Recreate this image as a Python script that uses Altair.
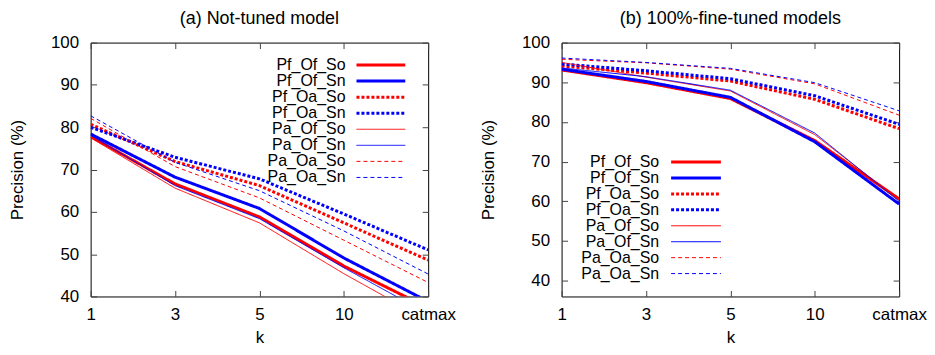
import altair as alt
import pandas as pd

FONT = "Liberation Sans"

k_labels = ["1", "3", "5", "10", "catmax"]
series = ["Pf_Of_So", "Pf_Of_Sn", "Pf_Oa_So", "Pf_Oa_Sn",
          "Pa_Of_So", "Pa_Of_Sn", "Pa_Oa_So", "Pa_Oa_Sn"]

# (a) Not-tuned model
a_Pf_Of_So = [77.8, 66.6, 58.8, 47.2, 37.3]
a_Pf_Of_Sn = [78.4, 68.2, 60.8, 49.1, 38.8]
a_Pf_Oa_So = [80.7, 71.9, 66.2, 57.4, 48.6]
a_Pf_Oa_Sn = [80.0, 72.9, 67.8, 59.5, 51.0]
a_Pa_Of_So = [77.5, 65.6, 57.4, 45.4, 34.3]
a_Pa_Of_Sn = [78.1, 66.2, 58.4, 46.8, 35.9]
a_Pa_Oa_So = [82.1, 70.7, 63.3, 53.3, 43.3]
a_Pa_Oa_Sn = [82.7, 71.7, 65.0, 55.5, 45.3]

# (b) 100%-fine-tuned models
b_Pf_Of_So = [93.1, 89.9, 85.9, 75.3, 60.6]
b_Pf_Of_Sn = [93.3, 90.2, 86.2, 75.0, 59.3]
b_Pf_Oa_So = [94.1, 92.3, 90.3, 85.7, 78.3]
b_Pf_Oa_Sn = [94.6, 92.9, 90.9, 86.6, 79.4]
b_Pa_Of_So = [95.0, 91.3, 87.8, 76.8, 60.3]
b_Pa_Of_Sn = [93.6, 91.4, 88.0, 77.2, 60.0]
b_Pa_Oa_So = [95.8, 94.9, 93.3, 89.6, 81.7]
b_Pa_Oa_Sn = [96.1, 95.0, 93.5, 89.9, 82.8]

a_vals = [a_Pf_Of_So, a_Pf_Of_Sn, a_Pf_Oa_So, a_Pf_Oa_Sn,
          a_Pa_Of_So, a_Pa_Of_Sn, a_Pa_Oa_So, a_Pa_Oa_Sn]
b_vals = [b_Pf_Of_So, b_Pf_Of_Sn, b_Pf_Oa_So, b_Pf_Oa_Sn,
          b_Pa_Of_So, b_Pa_Of_Sn, b_Pa_Oa_So, b_Pa_Oa_Sn]

# styles
RED, BLUE = "#ff0000", "#0000ff"
colors = [RED if s.endswith("So") else BLUE for s in series]
dashes = []
widths = []
for s in series:
    if s.startswith("Pf_Of"):
        dashes.append([1, 0]); widths.append(3)
    elif s.startswith("Pf_Oa"):
        dashes.append([3, 2]); widths.append(3)
    elif s.startswith("Pa_Of"):
        dashes.append([1, 0]); widths.append(1)
    else:
        dashes.append([4, 3]); widths.append(1)

color_enc = alt.Color("series:N", scale=alt.Scale(domain=series, range=colors), legend=None)
dash_enc = alt.StrokeDash("series:N", scale=alt.Scale(type="ordinal", domain=series, range=dashes), legend=None)
width_enc = alt.StrokeWidth("series:O", scale=alt.Scale(type="ordinal", domain=series, range=widths), legend=None)

W, H = 339, 255
TICK = 6


def make_panel(vals, title, ydomain, yticks, leg_text_x, leg_x1, leg_x2, leg_top, leg_bot):
    rows = []
    for i, s in enumerate(series):
        for j, k in enumerate(k_labels):
            rows.append({"series": s, "k": k, "value": vals[i][j], "order": j})
    df = pd.DataFrame(rows)

    xscale = alt.Scale(type="point", domain=k_labels, padding=0)
    yscale = alt.Scale(domain=ydomain, nice=False, zero=False)

    lines = alt.Chart(df).mark_line(clip=True, strokeCap="butt").encode(
        x=alt.X("k:N", scale=xscale, sort=k_labels,
                axis=alt.Axis(orient="bottom", title="k", domain=False, grid=False,
                              tickSize=TICK, offset=-TICK, labelPadding=10,
                              labelAngle=0, labelFlush=False, titlePadding=7)),
        y=alt.Y("value:Q", scale=yscale,
                axis=alt.Axis(orient="left", title="Precision (%)", values=yticks,
                              domain=False, grid=False, tickSize=TICK, offset=-TICK,
                              labelPadding=12, titlePadding=24)),
        color=color_enc, strokeDash=dash_enc, strokeWidth=width_enc,
        order="order:Q",
        detail="series:N",
    )

    mirror = alt.Chart(df).mark_line(clip=True, strokeOpacity=0).encode(
        x=alt.X("k:N", scale=xscale, sort=k_labels,
                axis=alt.Axis(orient="top", title=None, labels=False, domain=False,
                              grid=False, tickSize=TICK, offset=-TICK,
                              minExtent=0, maxExtent=0)),
        y=alt.Y("value:Q", scale=yscale,
                axis=alt.Axis(orient="right", title=None, labels=False, values=yticks,
                              domain=False, grid=False, tickSize=TICK, offset=-TICK,
                              minExtent=0, maxExtent=0)),
        detail="series:N",
        order="order:Q",
    )

    leg_df = pd.DataFrame({"series": series})
    leg_y = alt.Y("series:N", sort=series,
                  scale=alt.Scale(type="point", domain=series, range=[leg_top, leg_bot]),
                  axis=None)
    leg_text = alt.Chart(leg_df).mark_text(
        align="right", baseline="middle", font=FONT, fontSize=16, color="black"
    ).encode(y=leg_y, x=alt.value(leg_text_x), text="series:N")
    leg_rule = alt.Chart(leg_df).mark_rule(strokeCap="butt").encode(
        y=leg_y, x=alt.value(leg_x1), x2=alt.value(leg_x2),
        color=color_enc, strokeDash=dash_enc, strokeWidth=width_enc,
    )

    return alt.layer(lines, mirror, leg_rule, leg_text).resolve_scale(
        y="independent"
    ).resolve_axis(x="independent", y="independent").properties(
        width=W, height=H,
        title=alt.TitleParams(title, font=FONT, fontSize=18, fontWeight="normal",
                              color="black", offset=6, anchor="middle"),
    )


left = make_panel(a_vals, "(a) Not-tuned model", [40, 100], [40, 50, 60, 70, 80, 90, 100],
                  256, 267, 316, 14.5, 143.5)
right = make_panel(b_vals, "(b) 100%-fine-tuned models", [36, 100], [40, 50, 60, 70, 80, 90, 100],
                   98, 110, 160, 112, 240)

chart = alt.hconcat(left, right, spacing=23).properties(
    padding={"left": 0, "top": 0, "right": 0, "bottom": 0}
).configure_view(stroke="black", strokeWidth=1).configure_axis(
    labelFont=FONT, labelFontSize=17, labelColor="black",
    titleFont=FONT, titleFontSize=17, titleFontWeight="normal", titleColor="black",
    tickColor="#444", tickWidth=1,
)

chart.save("out.html", embed_options={"renderer": "svg", "actions": False})
